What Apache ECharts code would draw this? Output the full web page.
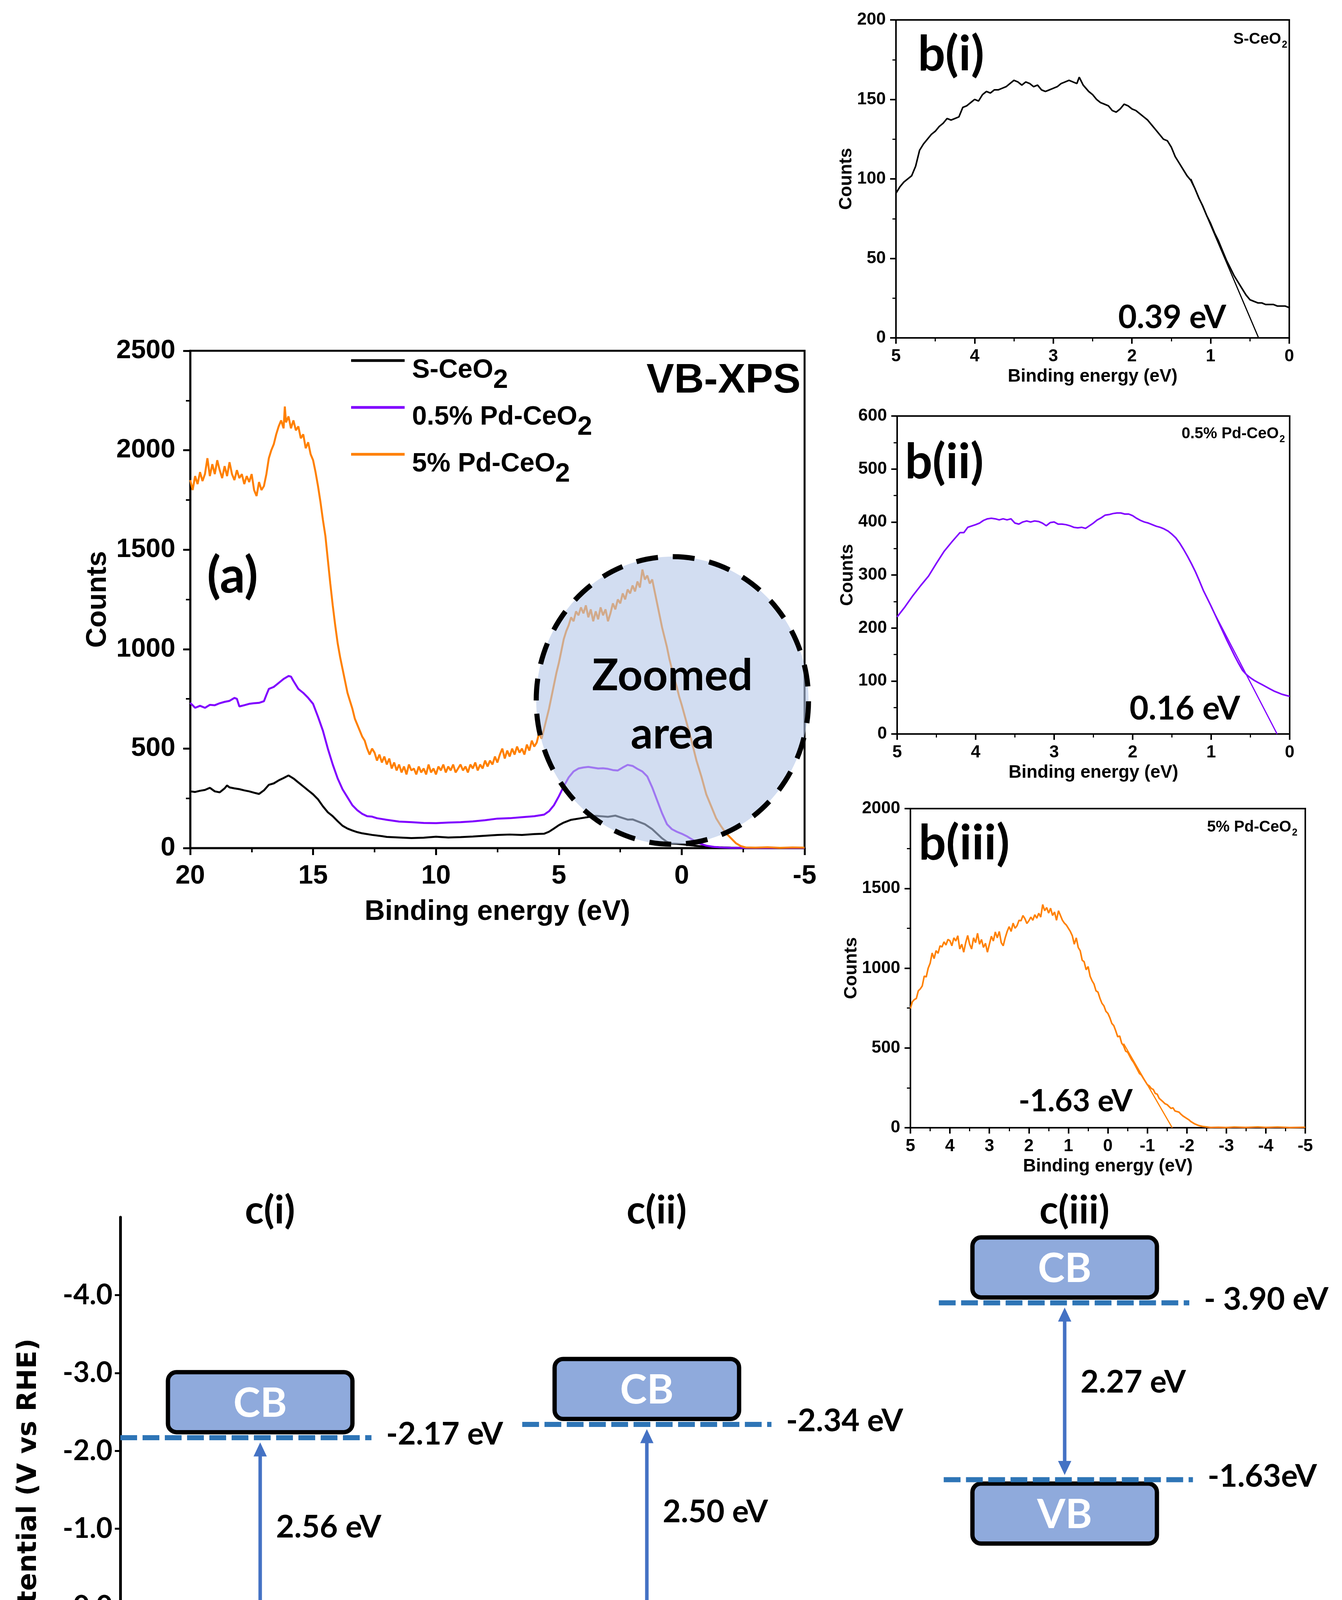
<!DOCTYPE html>
<html><head><meta charset="utf-8">
<script src="https://cdn.jsdelivr.net/npm/echarts@6/dist/echarts.min.js"></script>
<style>html,body{margin:0;padding:0;background:#fff}#c{width:3436px;height:4560px}</style>
</head><body><div id="c"></div>
<script>
// ---------------- DATA ----------------
// Panel (a): VB-XPS survey, [binding energy (eV), counts]
const a_S = [[20,285],[19.8,282],[19.6,288],[19.4,292],[19.2,303],[19.0,285],[18.8,280],[18.6,300],[18.5,315],[18.4,305],[18.2,300],[18.0,296],[17.8,290],[17.6,285],[17.4,278],[17.2,272],[17.0,290],[16.8,318],[16.6,325],[16.4,340],[16.2,352],[16.0,365],[15.8,350],[15.6,330],[15.4,310],[15.2,290],[15.0,270],[14.8,245],[14.6,210],[14.4,180],[14.2,160],[14.0,135],[13.8,112],[13.6,98],[13.4,88],[13.2,80],[13.0,74],[12.6,66],[12.2,60],[12.0,56],[11.5,53],[11.0,50],[10.5,52],[10.0,57],[9.5,53],[9.0,55],[8.5,58],[8.0,62],[7.5,66],[7.0,68],[6.5,66],[6.0,70],[5.6,72],[5.4,82],[5.2,98],[5.0,115],[4.8,128],[4.5,142],[4.0,152],[3.5,162],[3.0,157],[2.7,163],[2.5,155],[2.2,143],[2.0,144],[1.5,120],[1.2,95],[1.0,72],[0.8,49],[0.6,31],[0.4,22],[0.2,21],[0.0,19],[-0.5,12],[-1.0,7],[-1.5,4],[-2,2],[-3,0],[-5,0]];
const a_Pd05 = [[20,730],[19.8,705],[19.6,715],[19.4,705],[19.2,720],[19.0,718],[18.8,728],[18.6,735],[18.4,740],[18.2,755],[18.1,750],[18.0,712],[17.8,718],[17.6,725],[17.4,728],[17.2,730],[17.0,738],[16.9,770],[16.8,800],[16.6,810],[16.4,830],[16.2,850],[16.0,865],[15.9,862],[15.8,840],[15.6,800],[15.4,780],[15.2,755],[15.0,725],[14.8,660],[14.6,590],[14.4,500],[14.2,420],[14.0,350],[13.8,295],[13.6,255],[13.4,215],[13.2,190],[13.0,172],[12.8,160],[12.6,158],[12.4,150],[12.2,146],[12.0,142],[11.5,133],[11.0,130],[10.5,126],[10.0,125],[9.5,128],[9.0,130],[8.5,134],[8.0,140],[7.5,148],[7.0,150],[6.5,155],[6.0,160],[5.6,168],[5.4,185],[5.2,215],[5.0,260],[4.8,310],[4.6,355],[4.4,385],[4.2,400],[4.0,405],[3.8,408],[3.6,404],[3.4,400],[3.2,401],[3.0,398],[2.8,392],[2.6,390],[2.4,405],[2.2,418],[2.0,413],[1.8,398],[1.6,385],[1.4,360],[1.2,305],[1.0,240],[0.8,175],[0.6,120],[0.4,95],[0.2,82],[0.0,72],[-0.2,60],[-0.4,45],[-0.6,30],[-0.8,20],[-1.0,12],[-1.3,6],[-1.6,3],[-2,1],[-3,0],[-5,0]];
const a_Pd5 = [[20,1850],[19.9,1800],[19.8,1870],[19.7,1830],[19.6,1890],[19.5,1845],[19.4,1880],[19.3,1960],[19.2,1870],[19.1,1930],[19.0,1880],[18.9,1950],[18.8,1900],[18.7,1860],[18.6,1920],[18.5,1870],[18.4,1940],[18.3,1880],[18.2,1850],[18.1,1900],[18.0,1860],[17.9,1880],[17.8,1830],[17.7,1870],[17.6,1840],[17.5,1880],[17.4,1800],[17.3,1770],[17.2,1840],[17.1,1800],[17.0,1820],[16.9,1880],[16.8,1960],[16.7,2000],[16.6,2030],[16.5,2080],[16.4,2120],[16.3,2150],[16.2,2110],[16.15,2220],[16.1,2140],[16.0,2170],[15.9,2110],[15.8,2150],[15.7,2100],[15.6,2120],[15.5,2060],[15.4,2080],[15.3,2010],[15.2,2040],[15.1,1980],[15.0,1950],[14.9,1890],[14.8,1820],[14.7,1740],[14.6,1650],[14.5,1570],[14.4,1450],[14.3,1330],[14.2,1220],[14.1,1120],[14.0,1030],[13.9,960],[13.8,900],[13.7,840],[13.6,780],[13.5,740],[13.4,700],[13.3,650],[13.2,620],[13.1,590],[13.0,560],[12.9,540],[12.8,500],[12.7,470],[12.6,500],[12.5,480],[12.4,440],[12.3,470],[12.2,430],[12.1,460],[12.0,420],[11.9,450],[11.8,400],[11.7,430],[11.6,390],[11.5,420],[11.4,380],[11.3,410],[11.2,370],[11.1,420],[11.0,390],[10.9,400],[10.8,370],[10.7,410],[10.6,380],[10.5,400],[10.4,370],[10.3,420],[10.2,380],[10.1,400],[10.0,370],[9.9,410],[9.8,390],[9.7,420],[9.6,380],[9.5,410],[9.4,390],[9.3,420],[9.2,380],[9.1,400],[9.0,420],[8.9,390],[8.8,410],[8.7,380],[8.6,420],[8.5,400],[8.4,430],[8.3,390],[8.2,420],[8.1,400],[8.0,440],[7.9,410],[7.8,440],[7.7,420],[7.6,460],[7.5,430],[7.4,470],[7.3,500],[7.2,450],[7.1,490],[7.0,460],[6.9,500],[6.8,470],[6.7,510],[6.6,480],[6.5,500],[6.4,470],[6.3,520],[6.2,490],[6.1,540],[6.0,510],[5.9,530],[5.8,580],[5.7,550],[5.6,600],[5.5,650],[5.4,700],[5.3,760],[5.2,820],[5.1,880],[5.0,930],[4.9,990],[4.8,1050],[4.7,1090],[4.6,1120],[4.5,1160],[4.4,1140],[4.3,1190],[4.2,1170],[4.1,1210],[4.0,1180],[3.9,1220],[3.8,1160],[3.7,1200],[3.6,1140],[3.5,1190],[3.4,1150],[3.3,1210],[3.2,1170],[3.1,1200],[3.0,1140],[2.9,1180],[2.8,1230],[2.7,1200],[2.6,1250],[2.5,1230],[2.4,1280],[2.3,1250],[2.2,1300],[2.1,1280],[2.0,1320],[1.9,1290],[1.8,1340],[1.7,1310],[1.6,1400],[1.5,1350],[1.4,1370],[1.3,1330],[1.2,1350],[1.1,1290],[1.0,1230],[0.9,1170],[0.8,1110],[0.7,1060],[0.6,1010],[0.5,950],[0.4,900],[0.3,850],[0.2,810],[0.1,760],[0.0,720],[-0.2,630],[-0.4,540],[-0.6,440],[-0.8,360],[-1.0,270],[-1.2,210],[-1.4,150],[-1.6,110],[-1.8,75],[-2.0,50],[-2.2,25],[-2.4,10],[-2.6,3],[-3.0,2],[-3.5,4],[-4.0,1],[-4.5,3],[-5.0,2]];
// "Zoomed area" marker: [centre eV, centre counts, half-width eV, half-height counts]
const zoomRegion = [0.38, 742, 5.54, 723];

// Panels b: VB edge with linear extrapolation
const b1_S = [[5,91],[4.95,95],[4.9,98],[4.85,100],[4.8,102],[4.75,108],[4.7,118],[4.65,122],[4.6,125],[4.55,128],[4.5,130],[4.45,133],[4.4,135],[4.35,138],[4.3,137],[4.25,138],[4.2,139],[4.15,145],[4.1,146],[4.05,148],[4.0,150],[3.95,149],[3.9,153],[3.85,155],[3.8,154],[3.75,156],[3.7,156],[3.65,157],[3.6,158],[3.55,160],[3.5,162],[3.45,161],[3.4,159],[3.35,161],[3.3,160],[3.25,158],[3.2,159],[3.15,156],[3.1,155],[3.05,156],[3.0,157],[2.95,158],[2.9,160],[2.85,161],[2.8,162],[2.75,161],[2.7,160],[2.67,164],[2.62,159],[2.55,155],[2.5,153],[2.45,150],[2.4,148],[2.35,147],[2.3,146],[2.25,143],[2.2,142],[2.15,144],[2.1,147],[2.05,146],[2.0,144],[1.95,143],[1.9,141],[1.85,139],[1.8,137],[1.75,134],[1.7,131],[1.65,128],[1.6,125],[1.55,124],[1.5,120],[1.45,114],[1.4,110],[1.35,106],[1.3,102],[1.25,99],[1.2,94],[1.15,88],[1.1,83],[1.05,77],[1.0,72],[0.95,66],[0.9,61],[0.85,55],[0.8,49],[0.75,44],[0.7,39],[0.65,35],[0.6,31],[0.55,27],[0.5,24],[0.45,23],[0.4,22],[0.35,22],[0.3,21],[0.25,21],[0.2,21],[0.15,20],[0.1,20],[0.05,20],[0,19]];
const b1_fit = [[1.25,100],[0.39,0]];
const b2_Pd05 = [[5,221],[4.9,240],[4.8,261],[4.7,280],[4.6,298],[4.5,322],[4.4,345],[4.3,363],[4.2,380],[4.15,380],[4.1,390],[4.0,395],[3.95,398],[3.9,403],[3.85,406],[3.8,407],[3.75,406],[3.7,404],[3.65,406],[3.6,404],[3.55,406],[3.5,398],[3.45,396],[3.4,400],[3.35,402],[3.3,400],[3.25,402],[3.2,401],[3.15,398],[3.1,393],[3.05,399],[3.0,400],[2.95,396],[2.9,396],[2.85,395],[2.8,393],[2.75,390],[2.7,389],[2.65,390],[2.6,388],[2.55,393],[2.5,398],[2.45,404],[2.4,408],[2.35,413],[2.3,414],[2.25,416],[2.2,417],[2.15,417],[2.1,415],[2.05,415],[2.0,412],[1.95,407],[1.9,403],[1.85,400],[1.8,398],[1.75,395],[1.7,392],[1.65,390],[1.6,387],[1.55,383],[1.5,377],[1.45,370],[1.4,360],[1.35,348],[1.3,335],[1.25,321],[1.2,306],[1.15,289],[1.1,271],[1.05,256],[1.0,241],[0.95,225],[0.9,209],[0.85,193],[0.8,177],[0.75,162],[0.7,147],[0.65,133],[0.6,120],[0.55,112],[0.5,106],[0.45,101],[0.4,97],[0.35,93],[0.3,89],[0.25,85],[0.2,81],[0.15,78],[0.1,75],[0.05,73],[0,71]];
const b2_fit = [[1.0,240],[0.16,0]];
const b3_Pd5 = [[5.00,748],[4.95,790],[4.90,803],[4.85,810],[4.80,858],[4.75,870],[4.70,889],[4.65,950],[4.60,945],[4.55,1000],[4.50,1031],[4.45,1095],[4.40,1060],[4.35,1110],[4.30,1093],[4.25,1140],[4.20,1133],[4.15,1165],[4.10,1145],[4.05,1180],[4.00,1172],[3.95,1140],[3.90,1190],[3.85,1170],[3.80,1203],[3.75,1120],[3.70,1150],[3.65,1100],[3.60,1160],[3.55,1205],[3.50,1150],[3.45,1120],[3.40,1190],[3.35,1160],[3.30,1219],[3.25,1150],[3.20,1180],[3.15,1130],[3.10,1156],[3.05,1100],[3.00,1150],[2.95,1200],[2.90,1170],[2.85,1227],[2.80,1190],[2.75,1230],[2.70,1160],[2.65,1140],[2.60,1190],[2.55,1230],[2.50,1260],[2.45,1230],[2.40,1282],[2.35,1250],[2.30,1266],[2.25,1300],[2.20,1297],[2.15,1330],[2.10,1310],[2.05,1280],[2.00,1297],[1.95,1320],[1.90,1300],[1.85,1335],[1.80,1313],[1.75,1344],[1.70,1320],[1.65,1399],[1.60,1360],[1.55,1380],[1.50,1345],[1.45,1376],[1.40,1330],[1.35,1352],[1.30,1300],[1.25,1360],[1.20,1330],[1.15,1300],[1.10,1282],[1.05,1270],[1.00,1250],[0.95,1230],[0.90,1203],[0.85,1150],[0.80,1190],[0.75,1130],[0.70,1109],[0.65,1050],[0.60,1040],[0.55,990],[0.50,1010],[0.45,950],[0.40,921],[0.35,900],[0.30,858],[0.25,850],[0.20,811],[0.15,780],[0.10,764],[0.05,730],[0.00,717],[-0.05,690],[-0.10,654],[-0.15,640],[-0.20,607],[-0.25,570],[-0.30,575],[-0.35,530],[-0.40,513],[-0.45,480],[-0.50,474],[-0.60,427],[-0.65,410],[-0.70,387],[-0.80,340],[-0.85,330],[-0.90,309],[-1.00,270],[-1.05,262],[-1.10,246],[-1.15,240],[-1.20,215],[-1.25,210],[-1.30,184],[-1.40,162],[-1.45,150],[-1.50,145],[-1.60,121],[-1.65,125],[-1.70,105],[-1.80,98],[-1.85,85],[-1.90,74],[-2.00,58],[-2.05,50],[-2.10,39],[-2.20,24],[-2.30,14],[-2.40,8],[-2.50,5],[-2.60,2],[-2.80,3],[-3.00,1],[-3.20,4],[-3.50,2],[-3.80,5],[-4.00,2],[-4.30,4],[-4.60,1],[-5.00,3]];
const b3_fit = [[-0.4,527],[-1.63,0]];

// Panel c: band positions (V vs RHE)
const cTitles = ['c(i)','c(ii)','c(iii)'];
const cbValues = [-2.17, -2.34, -3.90];
const vbValues = [0.39, 0.16, -1.63];
const cbLabels = ['-2.17 eV','-2.34 eV','- 3.90 eV'];
const vbLabels = ['0.39 eV','0.16 eV','-1.63eV'];
const cTicks = [-4, -3, -2, -1, 0, 1];

// ---------------- LAYOUT / STYLE ----------------
const FA = '"Liberation Sans", Arial, sans-serif';
const FC = 'Lato, "Open Sans", sans-serif';
const FD = '"DejaVu Sans", sans-serif';
const C_S = '#000000', C_P = '#8000FF', C_O = '#FF8000';
const colLayout = [
  {center:11.45, cbLine:[0,20.56], vbLine:[0,20.56]},
  {center:43.1, cbLine:[32.9,53.3], vbLine:[33.6,54.0]},
  {center:77.3, cbLine:[67.0,87.5], vbLine:[67.4,87.8]}
];
const BOX_HALF = 7.55, BOX_H = 0.77, CB_OFF = 0.07, VB_OFF = 0.05;

function valAxis(gi, o) {
  const big = gi === 0;
  const fs = big ? 68 : 44;
  return Object.assign({
    gridIndex: gi, type: 'value',
    axisLine: {show: true, onZero: false, lineStyle: {color: '#000', width: big ? 5 : 4}},
    axisTick: {show: true, inside: false, length: big ? 18 : 15, lineStyle: {color: '#000', width: big ? 5 : 4}},
    minorTick: {show: true, splitNumber: 2, length: big ? 11 : 9, lineStyle: {color: '#000', width: big ? 4 : 3}},
    splitLine: {show: false},
    axisLabel: {color: '#000', fontSize: fs, fontWeight: 'bold', fontFamily: FA, margin: big ? 38 : 26, formatter: (v) => String(v)},
    nameLocation: 'middle',
    nameTextStyle: {color: '#000', fontSize: big ? 72 : 46, fontWeight: 'bold', fontFamily: FA}
  }, o);
}

const legendNames = {'S-CeO2':'{a|S-CeO}{s|2}', '0.5% Pd-CeO2':'{a|0.5% Pd-CeO}{s|2}', '5% Pd-CeO2':'{a|5% Pd-CeO}{s|2}'};
const richSmall = (fs) => ({a:{font:`bold ${fs}px ${FA}`, fill:'#000', verticalAlign:'top', lineHeight:fs}, s:{font:`bold ${Math.round(fs*0.62)}px ${FA}`, fill:'#000', verticalAlign:'top', lineHeight:fs, padding:[Math.round(fs*0.55),0,0,2]}});

function lineSeries(name, data, color, xi, width) {
  return {name, type:'line', xAxisIndex:xi, yAxisIndex:xi, data, symbol:'none', showSymbol:false, lineStyle:{color, width}, itemStyle:{color}, z: 3, silent:true};
}

const chart = echarts.init(document.getElementById('c'), null, {width:3436, height:4560});
const option = {
  animation: false,
  backgroundColor: '#fff',
  grid: [
    {left:487, top:898, width:1573, height:1273, show:true, borderColor:'#000', borderWidth:5, backgroundColor:'transparent'},
    {left:2294, top:51, width:1007, height:814, show:true, borderColor:'#000', borderWidth:4, backgroundColor:'transparent'},
    {left:2297, top:1065, width:1005, height:814, show:true, borderColor:'#000', borderWidth:4, backgroundColor:'transparent'},
    {left:2331, top:2070, width:1011, height:817, show:true, borderColor:'#000', borderWidth:4, backgroundColor:'transparent'},
    {left:308, top:3116, width:3128, height:1396, show:false}
  ],
  xAxis: [
    valAxis(0, {min:-5, max:20, interval:5, inverse:true, name:'Binding energy (eV)', nameGap:128}),
    valAxis(1, {min:0, max:5, interval:1, inverse:true, name:'Binding energy (eV)', nameGap:76}),
    valAxis(2, {min:0, max:5, interval:1, inverse:true, name:'Binding energy (eV)', nameGap:76}),
    valAxis(3, {min:-5, max:5, interval:1, inverse:true, name:'Binding energy (eV)', nameGap:76}),
    {gridIndex:4, type:'value', min:0, max:100, show:false}
  ],
  yAxis: [
    valAxis(0, {min:0, max:2500, interval:500, name:'Counts', nameGap:200, nameRotate:90}),
    valAxis(1, {min:0, max:200, interval:50, name:'Counts', nameGap:104, nameRotate:90}),
    valAxis(2, {min:0, max:600, interval:100, name:'Counts', nameGap:104, nameRotate:90}),
    valAxis(3, {min:0, max:2000, interval:500, name:'Counts', nameGap:124, nameRotate:90}),
    {gridIndex:4, type:'value', min:-5, max:2, inverse:true,
     axisLine:{show:true, onZero:false, lineStyle:{color:'#000', width:7}},
     axisTick:{show:true, customValues:cTicks, length:14, lineStyle:{color:'#000', width:5}},
     minorTick:{show:false}, splitLine:{show:false},
     axisLabel:{customValues:cTicks, formatter:(v)=>Number(v).toFixed(1), color:'#000', fontSize:72, fontWeight:'bold', fontFamily:FC, margin:20},
     name:'Potential (V vs RHE)', nameLocation:'middle', nameRotate:90, nameGap:200,
     nameTextStyle:{color:'#000', fontSize:68, fontWeight:'bold', fontFamily:FD}}
  ],
  legend: {
    data: ['S-CeO2','0.5% Pd-CeO2','5% Pd-CeO2'],
    orient: 'vertical', left: 899, top: 888, padding: 0, itemGap: 0,
    icon: 'rect', itemWidth: 137, itemHeight: 7, selectedMode: false,
    formatter: (n) => legendNames[n],
    textStyle: {rich: {
      a: {fontSize:68, fontWeight:'bold', fontFamily:FA, color:'#000', lineHeight:70, verticalAlign:'top', padding:[26,0,0,14]},
      s: {fontSize:68, fontWeight:'bold', fontFamily:FA, color:'#000', lineHeight:70, verticalAlign:'top', padding:[52,0,0,0]}
    }}
  },
  graphic: [
    {type:'text', x:530, y:1476, z:10, style:{text:'(a)', font:`bold 128px ${FC}`, fill:'#000', align:'left', verticalAlign:'middle'}},
    {type:'text', x:2050, y:976, z:10, style:{text:'VB-XPS', font:`bold 106px ${FA}`, fill:'#000', align:'right', verticalAlign:'middle'}},
    {type:'text', x:2350, y:141, z:10, style:{text:'b(i)', font:`bold 124px ${FC}`, fill:'#000', align:'left', verticalAlign:'middle'}},
    {type:'text', x:3296, y:101, z:10, style:{text:'{a|S-CeO}{s|2}', rich:richSmall(40), align:'right', verticalAlign:'middle'}},
    {type:'text', x:2863, y:814, z:10, style:{text:'0.39 eV', font:`bold 82px ${FC}`, fill:'#000', align:'left', verticalAlign:'middle'}},
    {type:'text', x:2317, y:1185, z:10, style:{text:'b(ii)', font:`bold 124px ${FC}`, fill:'#000', align:'left', verticalAlign:'middle'}},
    {type:'text', x:3290, y:1111, z:10, style:{text:'{a|0.5% Pd-CeO}{s|2}', rich:richSmall(40), align:'right', verticalAlign:'middle'}},
    {type:'text', x:2892, y:1815, z:10, style:{text:'0.16 eV', font:`bold 84px ${FC}`, fill:'#000', align:'left', verticalAlign:'middle'}},
    {type:'text', x:2352, y:2161, z:10, style:{text:'b(iii)', font:`bold 124px ${FC}`, fill:'#000', align:'left', verticalAlign:'middle'}},
    {type:'text', x:3322, y:2118, z:10, style:{text:'{a|5% Pd-CeO}{s|2}', rich:richSmall(40), align:'right', verticalAlign:'middle'}},
    {type:'text', x:2608, y:2820, z:10, style:{text:'-1.63 eV', font:`bold 78px ${FC}`, fill:'#000', align:'left', verticalAlign:'middle'}}
  ],
  series: [
    lineSeries('S-CeO2', a_S, C_S, 0, 5),
    lineSeries('0.5% Pd-CeO2', a_Pd05, C_P, 0, 5),
    lineSeries('5% Pd-CeO2', a_Pd5, C_O, 0, 5),
    {type:'custom', xAxisIndex:0, yAxisIndex:0, data:[zoomRegion], z:5, silent:true, clip:false,
     renderItem: (params, api) => {
       const c = api.coord([api.value(0), api.value(1)]);
       const s = api.size([api.value(2), api.value(3)]);
       return {type:'group', children:[
         {type:'ellipse', shape:{cx:c[0], cy:c[1], rx:s[0], ry:s[1]}, style:{fill:'rgba(180,199,231,0.6)', stroke:'#000', lineWidth:13, lineDash:[56,38]}},
         {type:'text', style:{text:'Zoomed', x:c[0], y:c[1]-62, align:'center', verticalAlign:'middle', font:`bold 112px ${FC}`, fill:'#000'}},
         {type:'text', style:{text:'area', x:c[0], y:c[1]+87, align:'center', verticalAlign:'middle', font:`bold 112px ${FC}`, fill:'#000'}}
       ]};
     }},
    lineSeries('b S', b1_S, C_S, 1, 4),
    lineSeries('b S fit', b1_fit, C_S, 1, 3),
    lineSeries('b P', b2_Pd05, C_P, 2, 4),
    lineSeries('b P fit', b2_fit, C_P, 2, 3),
    lineSeries('b O', b3_Pd5, C_O, 3, 4),
    lineSeries('b O fit', b3_fit, C_O, 3, 3),
    {type:'custom', xAxisIndex:4, yAxisIndex:4, silent:true, clip:false, z:5,
     data: cbValues.map((cb, i) => [i, cb, vbValues[i]]),
     renderItem: (params, api) => {
       const i = api.value(0), cb = api.value(1), vb = api.value(2);
       const L = colLayout[i];
       const P = (x, y) => api.coord([x, y]);
       const ch = [];
       const box = (yTop, yBot, label) => {
         const p1 = P(L.center - BOX_HALF, yTop), p2 = P(L.center + BOX_HALF, yBot);
         ch.push({type:'rect', shape:{x:p1[0], y:p1[1], width:p2[0]-p1[0], height:p2[1]-p1[1], r:22},
                  style:{fill:'#8FAADC', stroke:'#000', lineWidth:11}});
         ch.push({type:'text', style:{text:label, x:(p1[0]+p2[0])/2, y:(p1[1]+p2[1])/2+4, align:'center', verticalAlign:'middle', font:`bold 104px ${FC}`, fill:'#fff'}});
       };
       box(cb - CB_OFF - BOX_H, cb - CB_OFF, 'CB');
       box(vb + VB_OFF, vb + VB_OFF + BOX_H, 'VB');
       const dash = (xr, y) => {
         const a = P(xr[0], y), b = P(xr[1], y);
         ch.push({type:'line', shape:{x1:a[0], y1:a[1], x2:b[0], y2:b[1]}, style:{stroke:'#2E75B6', lineWidth:13, lineDash:[43,14]}});
       };
       dash(L.cbLine, cb); dash(L.vbLine, vb);
       // arrow
       const t = P(L.center, cb), bt = P(L.center, vb);
       const y1 = t[1] + 12, y2 = bt[1] - 12, x = t[0], hw = 17, hh = 36;
       ch.push({type:'line', shape:{x1:x, y1:y1+hh-4, x2:x, y2:y2-hh+4}, style:{stroke:'#4472C4', lineWidth:9}});
       ch.push({type:'polygon', shape:{points:[[x,y1],[x-hw,y1+hh],[x+hw,y1+hh]]}, style:{fill:'#4472C4'}});
       ch.push({type:'polygon', shape:{points:[[x,y2],[x-hw,y2-hh],[x+hw,y2-hh]]}, style:{fill:'#4472C4'}});
       // labels
       const lf = `bold 80px ${FC}`;
       const pc = P(L.cbLine[1] + 1.2, cb), pv = P(L.vbLine[1] + 1.2, vb);
       ch.push({type:'text', style:{text:cbLabels[i], x:pc[0], y:pc[1]-8, align:'left', verticalAlign:'middle', font:lf, fill:'#000'}});
       ch.push({type:'text', style:{text:vbLabels[i], x:pv[0], y:pv[1]-8, align:'left', verticalAlign:'middle', font:lf, fill:'#000'}});
       const gap = (vb - cb).toFixed(2) + ' eV';
       const pg = P(L.center + 1.3, cb + 0.45 * (vb - cb));
       ch.push({type:'text', style:{text:gap, x:pg[0], y:pg[1], align:'left', verticalAlign:'middle', font:lf, fill:'#000'}});
       const pt = P(L.center + 0.8, -5.08);
       ch.push({type:'text', style:{text:cTitles[i], x:pt[0], y:pt[1], align:'center', verticalAlign:'middle', font:`bold 100px ${FC}`, fill:'#000'}});
       return {type:'group', children:ch};
     }}
  ]
};
chart.setOption(option);
</script></body></html>
